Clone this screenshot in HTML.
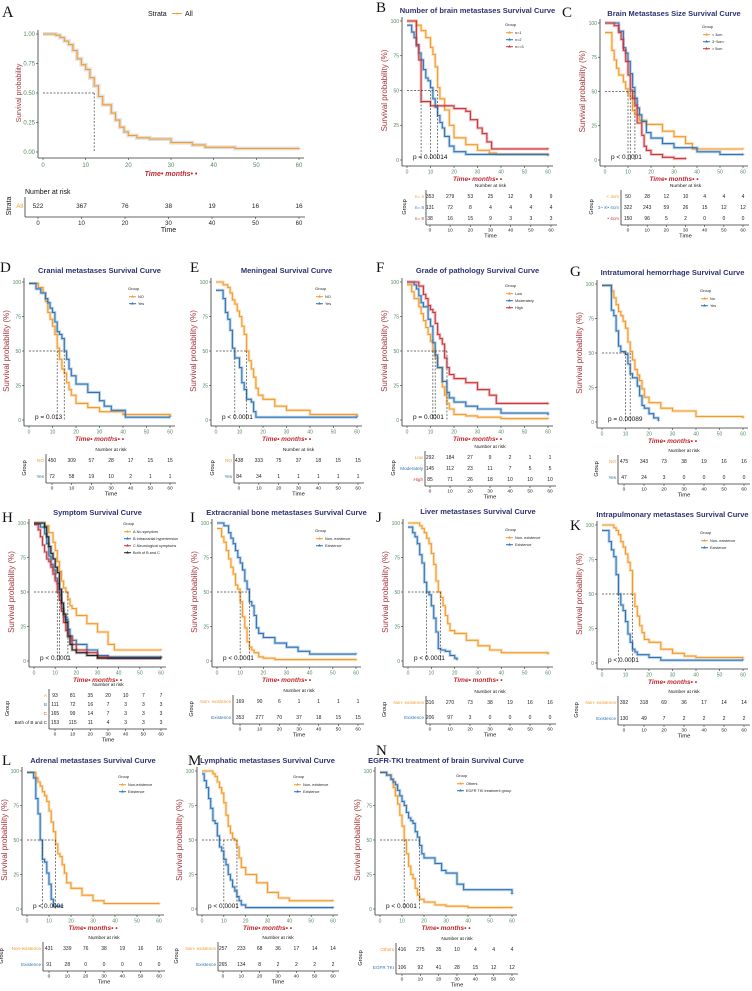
<!DOCTYPE html>
<html><head><meta charset="utf-8">
<style>
html,body{margin:0;padding:0;background:#fff;}
svg{display:block;font-family:"Liberation Sans",sans-serif;}
</style></head>
<body>
<svg id="fig" width="752" height="991" viewBox="0 0 752 991" xmlns="http://www.w3.org/2000/svg"></svg>
<script>
// ---------- DATA ----------
const A_all_t=[0,3,4,5,6,7,8,9,10,11,12,13,14,16,17,18,19,20,22,25,30,35,38,45,60];
const A_all_s=[1,.99,.97,.94,.91,.86,.79,.74,.70,.63,.56,.47,.40,.33,.27,.21,.17,.14,.12,.11,.08,.06,.04,.03,.03];
const A_risk=[522,367,76,38,19,16,16];

const B_n1_t=[0,2,4,6,8,10,11,12,13,14,16,18,20,25,30,35,38,60];
const B_n1_s=[1,1,.97,.93,.88,.81,.76,.67,.52,.44,.36,.25,.16,.11,.07,.05,.04,.03];
const B_n2_t=[0,2,3,4,5,6,7,8,9,10,11,12,13,14,15,16,18,20,25,60];
const B_n2_s=[.97,.92,.88,.82,.77,.72,.65,.59,.57,.52,.44,.38,.32,.27,.23,.17,.10,.06,.04,.04];
const B_n3_t=[0,2,4,5,6,10,17,20,25,27,30,32,34,36,60];
const B_n3_s=[1,1,.83,.72,.42,.39,.39,.37,.35,.29,.23,.19,.13,.08,.08];
const B_risk1=[353,279,53,25,12,9,9],B_risk2=[131,72,8,4,4,4,4],B_risk3=[38,16,15,9,3,3,3];

const C_a_t=[0,1,3,4,5,6,8,9,10,11,12,13,15,18,25,30,35,38,60];
const C_a_s=[.93,.93,.80,.73,.67,.62,.57,.52,.48,.45,.36,.33,.29,.26,.21,.17,.12,.08,.08];
const C_b_t=[0,3,6,8,9,10,11,12,13,14,15,16,18,20,25,30,40,50,60];
const C_b_s=[1,1,.94,.82,.78,.72,.63,.53,.45,.38,.33,.28,.20,.16,.12,.09,.06,.04,.04];
const C_c_t=[0,4,6,7,8,9,10,11,12,13,14,16,17,18,20,25,30,35];
const C_c_s=[1,.98,.93,.88,.80,.72,.62,.51,.45,.40,.27,.18,.10,.07,.04,.02,.01,.01];
const C_risk1=[50,28,12,10,4,4,4],C_risk2=[322,243,59,26,15,12,12],C_risk3=[150,96,5,2,0,0,0];

const D_no_t=[0,4,6,7,8,9,10,11,12,13,14,15,16,17,18,20,25,30,40,60];
const D_no_s=[.99,.96,.92,.86,.78,.73,.68,.62,.52,.44,.37,.34,.27,.22,.18,.12,.09,.06,.04,.03];
const D_yes_t=[0,3,5,7,8,9,10,11,12,13,14,15,16,17,18,20,25,30,32,35,41,60];
const D_yes_s=[.99,.95,.92,.88,.85,.81,.78,.71,.64,.62,.59,.50,.44,.37,.32,.26,.20,.14,.10,.07,.02,.02];
const D_risk1=[450,309,57,28,17,15,15],D_risk2=[72,58,19,10,2,1,1];

const E_no_t=[0,3,5,6,7,8,9,10,11,12,13,14,15,16,17,18,20,25,30,40,60];
const E_no_s=[1,.98,.96,.92,.87,.84,.79,.75,.68,.62,.50,.43,.37,.31,.23,.18,.15,.10,.07,.04,.03];
const E_yes_t=[0,3,4,5,6,7,8,10,11,12,13,15,16,17,60];
const E_yes_s=[.94,.88,.78,.73,.65,.52,.45,.38,.27,.22,.15,.13,.06,.02,.02];
const E_risk1=[438,333,75,37,18,15,15],E_risk2=[84,34,1,1,1,1,1];

const F_low_t=[0,2,3,5,6,7,8,9,10,11,12,13,15,16,17,18,20,25,30,40,60];
const F_low_s=[.98,.93,.88,.82,.77,.72,.67,.62,.57,.50,.45,.38,.24,.18,.12,.08,.04,.03,.02,.01,.01];
const F_mod_t=[0,3,4,5,6,7,9,10,11,12,13,15,17,18,20,25,30,40,60];
const F_mod_s=[1,.98,.95,.90,.85,.82,.73,.68,.56,.47,.38,.28,.20,.16,.13,.10,.08,.05,.04];
const F_high_t=[0,3,5,7,8,9,10,11,12,13,14,15,16,17,18,20,25,30,35,38,60];
const F_high_s=[1,1,.97,.91,.88,.83,.80,.78,.70,.62,.59,.55,.45,.38,.33,.30,.27,.22,.18,.12,.12];
const F_risk1=[292,184,27,9,2,1,1],F_risk2=[145,112,23,11,7,5,5],F_risk3=[85,71,26,18,10,10,10];

const G_no_t=[0,3,4,5,6,7,8,9,10,11,12,13,14,15,16,17,18,20,25,30,40,60];
const G_no_s=[.99,.99,.95,.90,.85,.80,.77,.73,.68,.58,.51,.45,.38,.34,.30,.24,.18,.14,.10,.08,.04,.03];
const G_yes_t=[0,3,4,5,6,7,8,9,10,11,12,13,15,16,17,18,20,22,24];
const G_yes_s=[.99,.99,.81,.77,.66,.55,.51,.51,.49,.42,.35,.32,.26,.19,.12,.10,.06,.03,.01];
const G_risk1=[475,343,73,38,19,16,16],G_risk2=[47,24,3,0,0,0,0];

const H_a_t=[0,3,5,7,9,10,11,12,13,14,15,16,17,18,20,25,30,35,38,60];
const H_a_s=[1,1,.98,.93,.86,.80,.72,.65,.58,.53,.50,.45,.40,.38,.33,.27,.21,.12,.08,.08];
const H_b_t=[0,3,5,6,7,8,9,10,11,12,13,14,15,16,17,18,20,25,30,35,60];
const H_b_s=[.99,.97,.92,.85,.76,.70,.66,.60,.56,.48,.38,.32,.30,.23,.18,.15,.12,.08,.04,.03,.03];
const H_c_t=[0,2,3,4,5,6,7,8,9,10,11,12,13,14,15,16,18,20,25,30,35,60];
const H_c_s=[.99,.95,.90,.84,.79,.74,.72,.68,.63,.58,.50,.44,.36,.28,.22,.18,.12,.08,.06,.03,.02,.02];
const H_bc_t=[0,3,5,6,7,8,9,10,11,12,13,14,15,16,17,18,20,25,30,60];
const H_bc_s=[1,1,.97,.90,.83,.78,.74,.68,.64,.52,.42,.34,.28,.18,.12,.08,.06,.04,.02,.02];
const H_risk1=[93,81,35,20,10,7,7],H_risk2=[111,72,16,7,3,3,3],H_risk3=[165,99,14,7,3,3,3],H_risk4=[153,115,11,4,3,3,3];

const I_non_t=[0,2,3,4,5,6,7,8,9,10,11,12,13,14,15,16,18,20,25,60];
const I_non_s=[.96,.90,.86,.80,.74,.68,.63,.55,.52,.43,.32,.24,.14,.10,.08,.06,.03,.02,.01,.01];
const I_ex_t=[0,2,3,5,6,7,8,9,10,11,12,13,14,15,16,17,18,20,25,30,35,40,60];
const I_ex_s=[1,1,.98,.93,.89,.85,.80,.75,.71,.66,.58,.52,.43,.40,.33,.24,.20,.17,.13,.10,.07,.05,.05];
const I_risk1=[169,90,6,1,1,1,1],I_risk2=[353,277,70,37,18,15,15];

const J_non_t=[0,3,5,6,7,8,9,10,11,12,13,14,15,16,17,18,20,25,30,35,40,60];
const J_non_s=[1,1,.98,.96,.93,.89,.85,.78,.70,.58,.50,.46,.40,.33,.27,.22,.20,.15,.11,.08,.06,.05];
const J_ex_t=[0,2,3,4,5,6,7,8,9,10,11,12,13,14,16,18,20,21];
const J_ex_s=[.97,.93,.90,.85,.77,.71,.57,.50,.48,.40,.31,.21,.09,.08,.07,.04,.02,.01];
const J_risk1=[316,270,73,38,19,16,16],J_risk2=[206,97,3,0,0,0,0];

const K_non_t=[0,3,5,6,7,8,9,10,11,12,13,14,15,16,17,18,20,25,30,35,40,60];
const K_non_s=[1,1,.98,.96,.93,.88,.84,.79,.73,.67,.50,.41,.34,.27,.22,.17,.15,.10,.07,.05,.04,.04];
const K_ex_t=[0,2,3,4,5,6,7,8,9,10,11,12,13,14,15,20,25,60];
const K_ex_s=[.96,.96,.88,.82,.77,.64,.50,.42,.38,.30,.21,.15,.10,.08,.06,.04,.02,.02];
const K_risk1=[392,318,69,36,17,14,14],K_risk2=[130,49,7,2,2,2,2];

const L_non_t=[0,3,4,5,6,7,8,9,10,11,12,13,14,15,16,17,18,20,25,30,35,60];
const L_non_s=[.99,.99,.95,.92,.89,.85,.82,.78,.71,.63,.56,.47,.40,.38,.32,.26,.19,.15,.10,.06,.04,.04];
const L_ex_t=[0,2,3,4,5,6,7,8,9,10,11,12,16];
const L_ex_s=[.99,.99,.95,.80,.69,.50,.36,.34,.26,.18,.07,.02,.02];
const L_risk1=[431,339,76,38,19,16,16],L_risk2=[91,28,0,0,0,0,0];

const M_non_t=[0,3,5,6,7,8,9,10,11,12,13,14,15,16,17,18,20,25,30,35,40,60];
const M_non_s=[1,1,.98,.96,.92,.88,.84,.77,.68,.60,.55,.51,.50,.45,.37,.30,.25,.19,.12,.08,.06,.06];
const M_ex_t=[0,1,2,3,4,5,6,7,8,9,10,11,12,13,14,15,16,17,18,20,60];
const M_ex_s=[.98,.93,.88,.80,.73,.64,.62,.53,.45,.42,.36,.32,.25,.21,.16,.13,.09,.06,.03,.01,.01];
const M_risk1=[257,233,68,36,17,14,14],M_risk2=[265,134,8,2,2,2,2];

const N_oth_t=[0,3,5,6,7,8,9,10,11,12,13,14,15,16,17,18,20,25,30,40,60];
const N_oth_s=[.99,.97,.94,.88,.82,.76,.68,.60,.50,.40,.31,.25,.22,.15,.10,.07,.05,.03,.02,.01,.01];
const N_egfr_t=[0,3,5,6,7,8,9,10,11,12,13,14,15,16,17,18,19,20,25,28,30,35,38,60];
const N_egfr_s=[.99,.97,.94,.92,.90,.86,.82,.78,.75,.70,.66,.64,.62,.56,.52,.46,.40,.37,.33,.28,.26,.18,.14,.11];
const N_risk1=[416,275,35,10,4,4,4],N_risk2=[106,92,41,28,15,12,12];

const xTicks=[0,10,20,30,40,50,60];
const pctTicks=[0,25,50,75,100];
const fracTicks=["0.00","0.25","0.50","0.75","1.00"];

const OR="#f39a2b",BL="#2e74b5",RD="#c9363b",BK="#222";

// ---------- RENDER ----------
const svg=document.getElementById('fig');
const NS="http://www.w3.org/2000/svg";
function mk(tag,attrs,parent,text){
  const e=document.createElementNS(NS,tag);
  for(const k in attrs)e.setAttribute(k,attrs[k]);
  if(text!==undefined)e.textContent=text;
  (parent||svg).appendChild(e);return e;
}
function txt(x,y,s,size,fill,parent,extra){
  const a={x:x,y:y,'font-size':size,fill:fill};
  if(extra)for(const k in extra)a[k]=extra[k];
  return mk('text',a,parent,s);
}

function panel(P){
  const g=mk('g',{});
  
  
  const xs=t=>P.px0+(P.px1-P.px0)*t/60;
  const ys=s=>P.py0-(P.py0-P.py100)*s;
  const tx=t=>P.tx0+(P.tx1-P.tx0)*t/60;
  const L=txt(P.lx,P.ly,P.letter,P.letter==='A'?16:15,'#111',g,{'font-family':'Liberation Serif,serif'});
  
  
  if(P.title){
    const T=txt((P.px0+P.px1)/2,P.ty,P.title,7.5,'#2d3170',g,{'text-anchor':'middle','font-weight':'bold'});
    
    
  }
  const ax0=P.px0-5,axB=P.py0+6;
  mk('line',{x1:ax0,y1:P.py100-4,x2:ax0,y2:axB,stroke:'#333','stroke-width':0.8},g);
  mk('line',{x1:ax0,y1:axB,x2:P.px1+5,y2:axB,stroke:'#333','stroke-width':0.8},g);
  for(let i=0;i<5;i++){
    const yy=ys(i/4);
    mk('line',{x1:ax0-2,y1:yy,x2:ax0,y2:yy,stroke:'#333','stroke-width':0.6},g);
    const lab=P.frac?fracTicks[i]:String(pctTicks[i]);
    const t=txt(ax0-3,yy+1.8,lab,P.frac?6:5,'#4f8a5a',g,{'text-anchor':'end'});
    
    
  }
  xTicks.forEach(v=>{
    const xx=xs(v);
    mk('line',{x1:xx,y1:axB,x2:xx,y2:axB+2,stroke:'#333','stroke-width':0.6},g);
    const t=txt(xx,axB+(P.frac?9:7.5),String(v),P.frac?6:5,'#4f8a5a',g,{'text-anchor':'middle'});
    
    
  });
  const yl=txt(0,0,P.frac?'Survival probability':'Survival probability (%)',P.frac?7:8,'#a8383d',g,{'text-anchor':'middle',transform:`translate(${ax0-(P.frac?17:15)},${(P.py0+P.py100)/2}) rotate(-90)`});
  
  
  const xl=txt((P.px0+P.px1)/2,axB+(P.frac?18:15),'Time\u2022  months\u2022  \u2022',P.frac?7:6.5,'#c0282e',g,{'text-anchor':'middle','font-weight':'bold','font-style':'italic'});
  
  
  P.groups.forEach((G,gi)=>{
    let d='M'+xs(G.t[0]).toFixed(1)+','+ys(G.s[0]).toFixed(1);
    for(let i=1;i<G.t.length;i++)d+='H'+xs(G.t[i]).toFixed(1)+'V'+ys(G.s[i]).toFixed(1);
    mk('path',{d:d,fill:'none',stroke:P.frac?'#bbb':G.c,'stroke-width':P.frac?4:3,'stroke-opacity':P.frac?0.45:0.3},g);
    const p=mk('path',{d:d,fill:'none',stroke:G.c,'stroke-width':1.1},g);
    
    
    const lt=G.t[G.t.length-1],ls=G.s[G.s.length-1];
    txt(xs(lt),ys(ls)+2,'+',6,G.c,g,{'text-anchor':'middle'});
  });
  if(P.med){
    const mx=Math.max(...P.med);
    mk('line',{x1:P.px0,y1:ys(.5),x2:xs(mx),y2:ys(.5),stroke:'#444','stroke-width':0.7,'stroke-dasharray':'2,1.5'},g);
    P.med.forEach(m=>mk('line',{x1:xs(m),y1:ys(.5),x2:xs(m),y2:P.py0,stroke:'#444','stroke-width':0.7,'stroke-dasharray':'2,1.5'},g));
  }
  if(P.p){
    const pt=txt(P.px0+6,P.py0-1,P.p,6.5,'#111',g);
    
    
  }
  if(P.frac){
    txt(P.lgx,P.lgy,'Strata',7,'#111',g);
    mk('line',{x1:P.lgx+24,y1:P.lgy-2.5,x2:P.lgx+34,y2:P.lgy-2.5,stroke:OR,'stroke-width':1},g);
    txt(P.lgx+29,P.lgy,'+',6,OR,g,{'text-anchor':'middle'});
    const le=txt(P.lgx+37,P.lgy,'All',7,'#111',g);
    
    
  } else {
    txt(P.lgx,P.lgy,'Group',4,'#222',g);
    P.groups.forEach((G,i)=>{
      const y=P.lgy+8+i*7;
      mk('line',{x1:P.lgx+1,y1:y-1.3,x2:P.lgx+8,y2:y-1.3,stroke:G.c,'stroke-width':1},g);
      mk('path',{d:`M${P.lgx+4.5},${y-3}l1.5,2.5h-3z`,fill:G.c},g);
      const le=txt(P.lgx+10,y,G.name,3.8,'#222',g);
      
      
    });
  }
  const rows=P.rows;
  const top=rows[0]-(P.frac?12:9);
  const bot=rows[rows.length-1]+(P.frac?11:7);
  const nar=txt(P.frac?P.tline:(P.tx0+P.tx1)/2,top,'Number at risk',P.frac?7:4.8,'#111',g,{'text-anchor':P.frac?'start':'middle'});
  
  
  mk('line',{x1:P.tline,y1:top+3,x2:P.tline,y2:bot,stroke:'#333','stroke-width':0.8},g);
  mk('line',{x1:P.tline,y1:bot,x2:P.tx1+6,y2:bot,stroke:'#333','stroke-width':0.8},g);
  txt(0,0,P.frac?'Strata':'Group',P.frac?7:5.5,'#111',g,{'text-anchor':'middle',transform:`translate(${P.frac?P.tline-14:P.tline-(P.glabOff||20)},${(rows[0]+rows[rows.length-1])/2}) rotate(-90)`});
  P.groups.forEach((G,i)=>{
    const rl=txt(P.tline-2,rows[i]+1.8,G.rlab||G.name,P.frac?6:4.6,G.c,g,{'text-anchor':'end'});
    
    
    G.risk.forEach((v,j)=>{
      const c=txt(tx(xTicks[j]),rows[i]+2,String(v),P.frac?6.5:5,'#222',g,{'text-anchor':'middle'});
      
      
    });
  });
  xTicks.forEach(v=>{
    mk('line',{x1:tx(v),y1:bot,x2:tx(v),y2:bot+2,stroke:'#333','stroke-width':0.6},g);
    txt(tx(v),bot+(P.frac?8:6.5),String(v),P.frac?6:4.8,'#222',g,{'text-anchor':'middle'});
  });
  const tl=txt((P.tx0+P.tx1)/2,bot+(P.frac?15:12.5),'Time',P.frac?7:5.8,'#111',g,{'text-anchor':'middle'});
  
  
}

const panels=[
 {letter:'A',lx:2,ly:17,frac:true,px0:43,px1:299,py100:34,py0:152,tx0:38,tx1:299,tline:25,rows:[206],lgx:148,lgy:16,med:[12],
  groups:[{key:'all',name:'All',c:OR,t:A_all_t,s:A_all_s,risk:A_risk}]},
 {letter:'B',lx:376,ly:12,title:'Number of  brain metastases  Survival Curve',ty:13,px0:407,px1:548,py100:21,py0:160,tx0:430,tx1:551,tline:426,rows:[196,207,218],lgx:505,lgy:26,med:[6,10,13],p:'p = 0.00014',
  groups:[{key:'n1',name:'n=1',rlab:'n= 4',c:OR,t:B_n1_t,s:B_n1_s,risk:B_risk1},{key:'n2',name:'n=2',rlab:'n= 8',c:BL,t:B_n2_t,s:B_n2_s,risk:B_risk2},{key:'n3',name:'n>=3',rlab:'n= 8',c:RD,t:B_n3_t,s:B_n3_s,risk:B_risk3}]},
 {letter:'C',lx:562,ly:17,title:'Brain Metastases Size Survival Curve',ty:16,px0:605,px1:743,py100:23,py0:160,tx0:628,tx1:743,tline:621,rows:[196,207,218],lgx:702,lgy:28,med:[10,11,13],p:'p < 0.0001',glabOff:28,
  groups:[{key:'lt3',name:'< 3cm',rlab:'< 4cm',c:OR,t:C_a_t,s:C_a_s,risk:C_risk1},{key:'3to5',name:'3~5cm',rlab:'3~ K\u2022 4cm',c:BL,t:C_b_t,s:C_b_s,risk:C_risk2},{key:'gt5',name:'> 5cm',rlab:'\u2022 4cm',c:RD,t:C_c_t,s:C_c_s,risk:C_risk3}]},
 {letter:'D',lx:0,ly:272,title:'Cranial metastases Survival Curve',ty:273,px0:29,px1:170,py100:282,py0:420,tx0:52,tx1:170,tline:46,rows:[460,476],lgx:128,lgy:290,med:[12,15],p:'p = 0.013',
  groups:[{key:'no',name:'NO',c:OR,t:D_no_t,s:D_no_s,risk:D_risk1},{key:'yes',name:'Yes',c:BL,t:D_yes_t,s:D_yes_s,risk:D_risk2}]},
 {letter:'E',lx:190,ly:272,title:'Meningeal Survival Curve',ty:273,px0:216,px1:357,py100:282,py0:420,tx0:239,tx1:358,tline:234,rows:[460,476],lgx:315,lgy:290,med:[8,13],p:'p < 0.0001',
  groups:[{key:'no',name:'NO',c:OR,t:E_no_t,s:E_no_s,risk:E_risk1},{key:'yes',name:'Yes',c:BL,t:E_yes_t,s:E_yes_s,risk:E_risk2}]},
 {letter:'F',lx:376,ly:272,title:'Grade of pathology Survival Curve',ty:273,px0:407,px1:548,py100:282,py0:420,tx0:430,tx1:550,tline:425,rows:[457,468,479],lgx:505,lgy:287,med:[11,12,17],p:'p = 0.0001',glabOff:30,
  groups:[{key:'low',name:'Low',c:OR,t:F_low_t,s:F_low_s,risk:F_risk1},{key:'moderately',name:'Moderately',c:BL,t:F_mod_t,s:F_mod_s,risk:F_risk2},{key:'high',name:'High',c:RD,t:F_high_t,s:F_high_s,risk:F_risk3}]},
 {letter:'G',lx:570,ly:276,title:'Intratumoral hemorrhage Survival Curve',ty:275,px0:602,px1:743,py100:284,py0:422,tx0:624,tx1:744,tline:618,rows:[461,477],lgx:700,lgy:292,med:[10,12],p:'p = 0.00089',
  groups:[{key:'no',name:'No',rlab:'NO',c:OR,t:G_no_t,s:G_no_s,risk:G_risk1},{key:'yes',name:'Yes',c:BL,t:G_yes_t,s:G_yes_s,risk:G_risk2}]},
 {letter:'H',lx:2,ly:522,title:'Symptom Survival Curve',ty:515,px0:34,px1:161,py100:523,py0:661,tx0:55,tx1:161,tline:49,rows:[695,704,713,722],lgx:123,lgy:525,med:[11,12,16],p:'p < 0.0001',glabOff:40,
  groups:[{key:'a',name:'A.No symptom',rlab:'A',c:OR,t:H_a_t,s:H_a_s,risk:H_risk1},{key:'b',name:'B.Intracranial hypertension',rlab:'B',c:BL,t:H_b_t,s:H_b_s,risk:H_risk2},{key:'c',name:'C.Neurological symptoms',rlab:'C',c:RD,t:H_c_t,s:H_c_s,risk:H_risk3},{key:'bc',name:'Both of B and C',rlab:'Both of B and C',c:BK,t:H_bc_t,s:H_bc_s,risk:H_risk4}]},
 {letter:'I',lx:190,ly:522,title:'Extracranial bone metastases Survival Curve',ty:515,px0:217,px1:356,py100:523,py0:661,tx0:240,tx1:358,tline:233,rows:[701,717],lgx:315,lgy:532,med:[10,14],p:'p < 0.0001',glabOff:40,
  groups:[{key:'non-existence',name:'Non- existence',c:OR,t:I_non_t,s:I_non_s,risk:I_risk1},{key:'existence',name:'Existence',c:BL,t:I_ex_t,s:I_ex_s,risk:I_risk2}]},
 {letter:'J',lx:376,ly:522,title:'Liver metastases Survival Curve',ty:514,px0:408,px1:548,py100:523,py0:661,tx0:430,tx1:550,tline:426,rows:[702,717],lgx:505,lgy:531,med:[8,14],p:'p < 0.0001',glabOff:40,
  groups:[{key:'non-existence',name:'Non- existence',c:OR,t:J_non_t,s:J_non_s,risk:J_risk1},{key:'existence',name:'Existence',c:BL,t:J_ex_t,s:J_ex_s,risk:J_risk2}]},
 {letter:'K',lx:570,ly:530,title:'Intrapulmonary metastases Survival Curve',ty:517,px0:602,px1:743,py100:525,py0:663,tx0:624,tx1:744,tline:618,rows:[702,718],lgx:700,lgy:534,med:[7,13],p:'p < 0.0001',glabOff:40,
  groups:[{key:'non-existence',name:'Non- existence',c:OR,t:K_non_t,s:K_non_s,risk:K_risk1},{key:'existence',name:'Existence',c:BL,t:K_ex_t,s:K_ex_s,risk:K_risk2}]},
 {letter:'L',lx:2,ly:765,title:'Adrenal metastases Survival Curve',ty:763,px0:27,px1:159,py100:771,py0:909,tx0:49,tx1:159,tline:43,rows:[948,964],lgx:118,lgy:778,med:[7,13],p:'p < 0.0001',glabOff:40,
  groups:[{key:'non-existence',name:'Non-existence',c:OR,t:L_non_t,s:L_non_s,risk:L_risk1},{key:'existence',name:'Existence',c:BL,t:L_ex_t,s:L_ex_s,risk:L_risk2}]},
 {letter:'M',lx:188,ly:765,title:'Lymphatic metastases Survival Curve',ty:763,px0:202,px1:333,py100:771,py0:909,tx0:223,tx1:333,tline:218,rows:[948,964],lgx:293,lgy:778,med:[10,16],p:'p < 0.0001',glabOff:40,
  groups:[{key:'non-existence',name:'Non- existence',c:OR,t:M_non_t,s:M_non_s,risk:M_risk1},{key:'existence',name:'Existence',c:BL,t:M_ex_t,s:M_ex_s,risk:M_risk2}]},
 {letter:'N',lx:376,ly:755,title:'EGFR-TKI  treatment of brain  Survival Curve',ty:763,px0:380,px1:512,py100:771,py0:909,tx0:402,tx1:512,tline:396,rows:[949,967],lgx:456,lgy:777,med:[11,18],p:'p < 0.0001',glabOff:34,
  groups:[{key:'others',name:'Others',c:OR,t:N_oth_t,s:N_oth_s,risk:N_risk1},{key:'egfr',name:'EGFR TKI treatment group',rlab:'EGFR TKI',c:BL,t:N_egfr_t,s:N_egfr_s,risk:N_risk2}]}
];
panels.forEach(panel);
</script>
</body></html>
